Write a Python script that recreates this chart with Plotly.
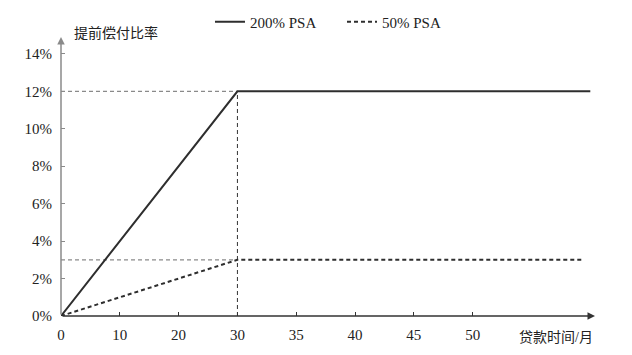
import plotly.graph_objects as go

# x positions are tick-slot indices (the axis is evenly spaced by slot, labelled by month)
x_tick_labels = ["0", "10", "20", "30", "35", "40", "45", "50"]
x_tick_pos = list(range(len(x_tick_labels)))

y_ticks = [0, 2, 4, 6, 8, 10, 12, 14]

psa200_x = [0, 3, 9.0]
psa200_y = [0, 12, 12]
psa50_x = [0, 3, 8.85]
psa50_y = [0, 3, 3]

FONT = "Liberation Serif, Times New Roman, Noto Sans CJK SC"
X_MAX = 9.08
Y_MAX = 14.9

fig = go.Figure()
fig.add_trace(go.Scatter(x=psa200_x, y=psa200_y, mode="lines", name="200% PSA",
                         line=dict(color="#2e2e2e", width=2)))
fig.add_trace(go.Scatter(x=psa50_x, y=psa50_y, mode="lines", name="50% PSA",
                         line=dict(color="#2e2e2e", width=2, dash="4px,3px")))

# guide lines
kx, ky200, ky50 = psa200_x[1], psa200_y[1], psa50_y[1]
fig.add_shape(type="line", x0=0, x1=kx, y0=ky200, y1=ky200,
              line=dict(color="#8a8a8a", width=1.2, dash="4px,3px"), layer="below")
fig.add_shape(type="line", x0=0, x1=kx, y0=ky50, y1=ky50,
              line=dict(color="#8a8a8a", width=1.2, dash="4px,3px"), layer="below")
fig.add_shape(type="line", x0=kx, x1=kx, y0=0, y1=ky200,
              line=dict(color="#333333", width=1, dash="4px,3px"), layer="below")

# axis arrows
fig.add_annotation(x=X_MAX, y=0, ax=0, ay=0, xref="x", yref="y", axref="x", ayref="y",
                   text="", showarrow=True, arrowhead=2, arrowsize=1, arrowwidth=1.5,
                   arrowcolor="#333333")
fig.add_annotation(x=0, y=Y_MAX, ax=0, ay=0, xref="x", yref="y", axref="x", ayref="y",
                   text="", showarrow=True, arrowhead=2, arrowsize=1, arrowwidth=1.5,
                   arrowcolor="#8a8a8a")

fig.add_annotation(x=11 / 534, y=1.0143, xref="paper", yref="paper", xanchor="left", yanchor="middle",
                   text="提前偿付比率", showarrow=False,
                   font=dict(family=FONT, size=14, color="#222"))
fig.add_annotation(x=X_MAX, y=0, xref="x", yref="y", xanchor="right", yanchor="top", yshift=-12,
                   text="贷款时间/月", showarrow=False,
                   font=dict(family=FONT, size=14, color="#222"))

fig.update_layout(
    width=632, height=355,
    margin=dict(l=61, r=37, t=37, b=39, autoexpand=False),
    paper_bgcolor="white", plot_bgcolor="white",
    font=dict(family=FONT, size=15, color="#222"),
    showlegend=True,
    legend=dict(orientation="h", x=0.279, y=1.054, xanchor="left", yanchor="middle",
                font=dict(family=FONT, size=15, color="#222"),
                itemwidth=30, entrywidth=87, entrywidthmode="pixels",
                bgcolor="rgba(0,0,0,0)"),
    xaxis=dict(range=[0, X_MAX], tickvals=x_tick_pos, ticktext=x_tick_labels,
               showgrid=False, zeroline=False, showline=False,
               ticks="inside", ticklen=4, tickcolor="#333", ticklabelstandoff=8),
    yaxis=dict(range=[0, Y_MAX], tickvals=y_ticks, ticktext=[f"{v}%" for v in y_ticks],
               showgrid=False, zeroline=False, showline=False,
               ticks="inside", ticklen=4, tickcolor="#8a8a8a", ticklabelstandoff=8),
)

fig.write_html("out.html")
